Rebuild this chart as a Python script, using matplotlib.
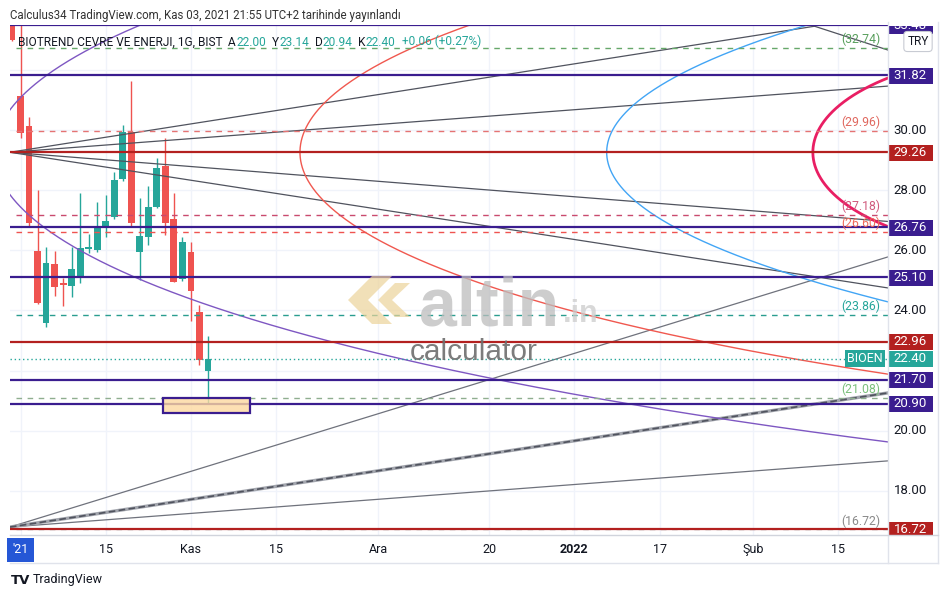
import matplotlib
matplotlib.use("Agg")
import matplotlib.pyplot as plt
from matplotlib.patches import Rectangle, Polygon
from matplotlib.lines import Line2D
import numpy as np

plt.rcParams["font.family"] = ["Roboto", "DejaVu Sans"]

# BIST:BIOEN daily candles, 30 Eyl - 3 Kas 2021 (bar index 0..23)
opens = [34.20, 31.13, 30.13, 25.98, 23.58, 25.55, 24.93, 24.81, 25.15, 26.05,
         26.00, 26.74, 27.10, 28.37, 29.93, 25.95, 26.44, 27.44, 28.80, 27.04,
         25.05, 25.94, 23.95, 22.00]
highs = [34.60, 33.48, 30.43, 28.00, 26.10, 25.98, 25.08, 26.10, 27.90, 26.55,
         27.60, 27.84, 28.60, 30.17, 31.63, 27.74, 28.14, 29.07, 29.73, 27.90,
         26.44, 26.28, 24.18, 23.14]
lows = [32.95, 29.73, 26.80, 24.20, 23.45, 24.48, 24.15, 24.45, 24.91, 25.90,
        25.95, 26.44, 27.05, 28.30, 26.80, 25.01, 26.18, 27.40, 26.50, 24.95,
        24.98, 23.65, 22.19, 20.94]
closes = [33.00, 29.90, 26.91, 24.25, 25.58, 24.78, 24.85, 25.38, 26.08, 26.10,
          26.75, 26.97, 28.34, 29.93, 26.91, 26.48, 27.44, 28.74, 26.91, 24.95,
          26.28, 24.65, 22.34, 22.40]

# time axis (bar index of each label, weekdays continue into the future)
tick_pos = [1, 11, 21, 31, 43, 56, 66, 76, 87, 97]
tick_lbl = ["'21", "15", "Kas", "15", "Ara", "20", "2022", "17", "Şub", "15"]
price_ticks = [18, 20, 22, 24, 26, 28, 30, 32]

PURPLE = "#3a1d8f"
DRED = "#b3201f"
TEAL = "#26a69a"

# horizontal levels
solid_levels = [33.48, 31.82, 29.26, 26.76, 25.10, 22.96, 21.70, 20.90, 16.72]
solid_colors = [PURPLE, PURPLE, DRED, PURPLE, PURPLE, DRED, PURPLE, PURPLE, DRED]
dashed_levels = [32.74, 29.96, 27.18, 26.60, 23.86, 21.08, 16.72]
dashed_colors = ["#66a86a", "#e57373", "#c94a6e", "#ef5350", "#2a9d8f", "#8fae8f", "#9e9e9e"]
dashed_text = ["#5aa05e", "#e0685f", "#d05a7c", "#ef6a5a", "#26a69a", "#7cc07c", "#8a8a8a"]

# fan lines: (x0, y0, x1, y1)
fan_top = [(-0.25, 29.26, 94.2, 33.45), (-0.25, 29.26, 102.8, 31.46),
           (-0.25, 29.26, 102.8, 26.96), (-0.25, 29.26, 102.8, 24.75),
           (94.2, 33.45, 102.8, 32.66)]
fan_bottom = [(-0.25, 16.80, 102.8, 25.78), (-0.25, 16.80, 102.8, 19.00)]
fan_thick = (-0.25, 16.80, 102.8, 21.26)

# elliptical arcs: leftmost bar, center price, half-width (bars), half-height (price)
arc_left = [-2.1, 33.8, 69.8, 94.0]
arc_mid = [29.26, 29.26, 29.26, 29.26]
arc_a = [297.2, 210.9, 344.2, 26.6]
arc_b = [12.63, 9.97, 11.64, 3.32]
arc_colors = ["#7e57c2", "#f0584f", "#42a5f5", "#e91e63"]
arc_widths = [1.0, 1.0, 1.0, 2.0]

# highlighted box (bars, price)
box_x = (17.7, 27.9)
box_y = (20.58, 21.10)

W, H = 949, 598
fig = plt.figure(figsize=(W / 100, H / 100), dpi=100)
fig.patch.set_facecolor("white")

def fx(x):
    return x / W

def fy(y):
    return 1 - y / H

ax = fig.add_axes([fx(10), fy(535), 878 / W, 510 / H])
ax.set_xlim(-0.235, 102.82)
ax.set_ylim(16.536, 33.491)
for s in ax.spines.values():
    s.set_visible(False)
ax.tick_params(length=0)
ax.set_yticks([])
ax.set_xticks(tick_pos)
ax.set_xticklabels(tick_lbl, fontsize=9, color="#131722")
ax.tick_params(axis="x", pad=6)
for lbl in ax.get_xticklabels():
    if lbl.get_text() == "2022":
        lbl.set_fontweight("bold")
    if lbl.get_text() == "'21":
        lbl.set_color("white")
        lbl.set_bbox(dict(boxstyle="square,pad=0.45", fc="#2557d6", ec="none"))

for p in tick_pos:
    ax.axvline(p, color="#f0f3fa", lw=1, zorder=0)
for p in price_ticks:
    ax.axhline(p, color="#f0f3fa", lw=1, zorder=0)

# candles
idx = np.arange(len(opens))
o = np.array(opens); c = np.array(closes)
cols = [TEAL if cc >= oo else "#ef5350" for oo, cc in zip(o, c)]
ax.vlines(idx, lows, highs, colors=cols, lw=1, zorder=2)
ax.bar(idx, np.maximum(np.abs(c - o), 0.04), bottom=np.minimum(o, c), width=0.8,
       color=cols, zorder=2)

# fans
for x0, y0, x1, y1 in fan_top:
    ax.plot([x0, x1], [y0, y1], color="#50535e", lw=0.9, zorder=3)
for x0, y0, x1, y1 in fan_bottom:
    ax.plot([x0, x1], [y0, y1], color="#6f727c", lw=0.9, zorder=3)
x0, y0, x1, y1 = fan_thick
ax.plot([x0, x1], [y0, y1], color="#a3a6ae", lw=2.4, zorder=3)
ax.plot([x0, x1], [y0, y1], color="#50535e", lw=1.2, ls=(0, (4, 2)), zorder=3)

# arcs
t = np.linspace(np.pi / 2, 3 * np.pi / 2, 6000)
for left, mid, a, b, col, lw in zip(arc_left, arc_mid, arc_a, arc_b, arc_colors, arc_widths):
    cx = left + a
    ax.plot(cx + a * np.cos(t), mid + b * np.sin(t), color=col, lw=lw, zorder=3)

# levels
for lev, col in zip(dashed_levels, dashed_colors):
    ax.plot([0.5, 102.82], [lev, lev], color=col, lw=1, ls=(0, (4, 4)), zorder=3)
for lev, col in zip(solid_levels, solid_colors):
    ax.axhline(lev, color=col, lw=1.6, zorder=4)
ax.axhline(closes[-1], color=TEAL, lw=1, ls=(0, (1, 2)), zorder=4)

for lev, col in zip(dashed_levels, dashed_text):
    ax.text(101.9, lev + 0.06, f"({lev:.2f})", color=col, fontsize=8.8,
            ha="right", va="bottom", zorder=5)

ax.add_patch(Rectangle((box_x[0], box_y[0]), box_x[1] - box_x[0], box_y[1] - box_y[0],
                       fc="#fdd9a0", ec="none", alpha=0.8, zorder=5))
ax.add_patch(Rectangle((box_x[0], box_y[0]), box_x[1] - box_x[0], box_y[1] - box_y[0],
                       fc="none", ec=PURPLE, lw=1.6, zorder=5))

# BIOEN tag near the price scale
ytr = ax.get_yaxis_transform()
ax.add_patch(Rectangle(((845 - 10) / 878, closes[-1] - 0.27), 40 / 878, 0.54,
                       transform=ytr, fc=TEAL, ec="none", zorder=6, clip_on=False))
ax.text((865 - 10) / 878, closes[-1], "BIOEN", transform=ytr, color="white",
        fontsize=9, ha="center", va="center", zorder=7)

# legend line inside the chart
leg_y = fy(42)
t0 = fig.text(fx(18), leg_y, "BIOTREND CEVRE VE ENERJI, 1G, BIST", fontsize=8.6,
              color="#131722", va="center", zorder=8)
prev = t0
chg = closes[-1] - closes[-2]
pieces = [("  A", "#131722"), (f"{opens[-1]:.2f}", TEAL), ("  Y", "#131722"),
          (f"{highs[-1]:.2f}", TEAL), ("  D", "#131722"), (f"{lows[-1]:.2f}", TEAL),
          ("  K", "#131722"), (f"{closes[-1]:.2f}", TEAL),
          (f"  +{chg:.2f} (+{chg / closes[-2] * 100:.2f}%)", TEAL)]
for txt, col in pieces:
    prev = ax.annotate(txt, xy=(1, 0), xycoords=prev, xytext=(0, 0),
                       textcoords="offset points", fontsize=8.6, color=col,
                       va="bottom", ha="left", annotation_clip=False, zorder=8)

# price scale
pax = fig.add_axes([fx(888), fy(535), 52 / W, 509 / H])
pax.set_xlim(0, 1)
pax.set_ylim(16.536, 33.47)
pax.axis("off")
label_levels = solid_levels + [closes[-1]]
label_colors = solid_colors + [TEAL]
for p in price_ticks:
    # ticks covered by a level tag are hidden, as on the price scale
    if min(abs(p - lev) for lev in label_levels) < 0.45:
        continue
    pax.text(0.43, p, f"{p:.2f}", fontsize=9.5, color="#131722", ha="center", va="center")
for lev, col in zip(label_levels, label_colors):
    pax.add_patch(Rectangle((0, lev - 0.265), 0.865, 0.53, fc=col, ec="none", zorder=3))
    pax.text(0.43, lev, f"{lev:.2f}", fontsize=9.5, color="white", ha="center",
             va="center", zorder=4, clip_on=True)

# frame lines
fig.add_artist(Line2D([fx(888), fx(888)], [fy(22), fy(563)], color="#e0e3eb", lw=1))
fig.add_artist(Line2D([fx(938), fx(938)], [fy(22), fy(563)], color="#e0e3eb", lw=1))
fig.add_artist(Line2D([fx(10), fx(938)], [fy(535), fy(535)], color="#d1d4dc", lw=1))
fig.add_artist(Line2D([fx(10), fx(938)], [fy(563), fy(563)], color="#e0e3eb", lw=1))

fig.text(fx(918), fy(41.5), "TRY", fontsize=8.5, color="#131722", ha="center", va="center",
         bbox=dict(boxstyle="round,pad=0.3,rounding_size=0.3", fc="white", ec="#c8cbd3", lw=0.8))

# header and footer
fig.text(fx(10), fy(15), "Calculus34 TradingView.com, Kas 03, 2021 21:55 UTC+2 tarihinde yayınlandı",
         fontsize=8.3, color="#333333", va="center")
fig.text(fx(11), fy(580), "TV", fontsize=9.5, fontweight="bold", color="#131722", va="center",
         family=["DejaVu Sans"])
fig.text(fx(33), fy(580), "TradingView", fontsize=9, color="#131722", va="center")

# watermark
fig.text(fx(419), fy(325), "altin", fontsize=49, fontweight="bold", color="#bdbdbd",
         alpha=0.75, family=["Liberation Sans"], zorder=10)
fig.text(fx(563), fy(322), ".in", fontsize=22, fontweight="bold", color="#cccccc",
         alpha=0.75, family=["Liberation Sans"], zorder=10)
fig.text(fx(410), fy(360), "calculator", fontsize=21.5, color="#6e6e6e",
         alpha=0.9, family=["Liberation Sans"], zorder=10)
chev1 = [(372, 276), (392, 276), (368, 300), (392, 324), (372, 324), (348, 300)]
chev2 = [(395, 283), (410, 283), (392, 300), (410, 317), (395, 317), (378, 300)]
for ch in (chev1, chev2):
    fig.add_artist(Polygon([(fx(a), fy(b)) for a, b in ch], closed=True,
                           transform=fig.transFigure, fc="#ecd39a", ec="none", alpha=0.7,
                           zorder=10))

fig.savefig("out.png", dpi=100, facecolor="white")
